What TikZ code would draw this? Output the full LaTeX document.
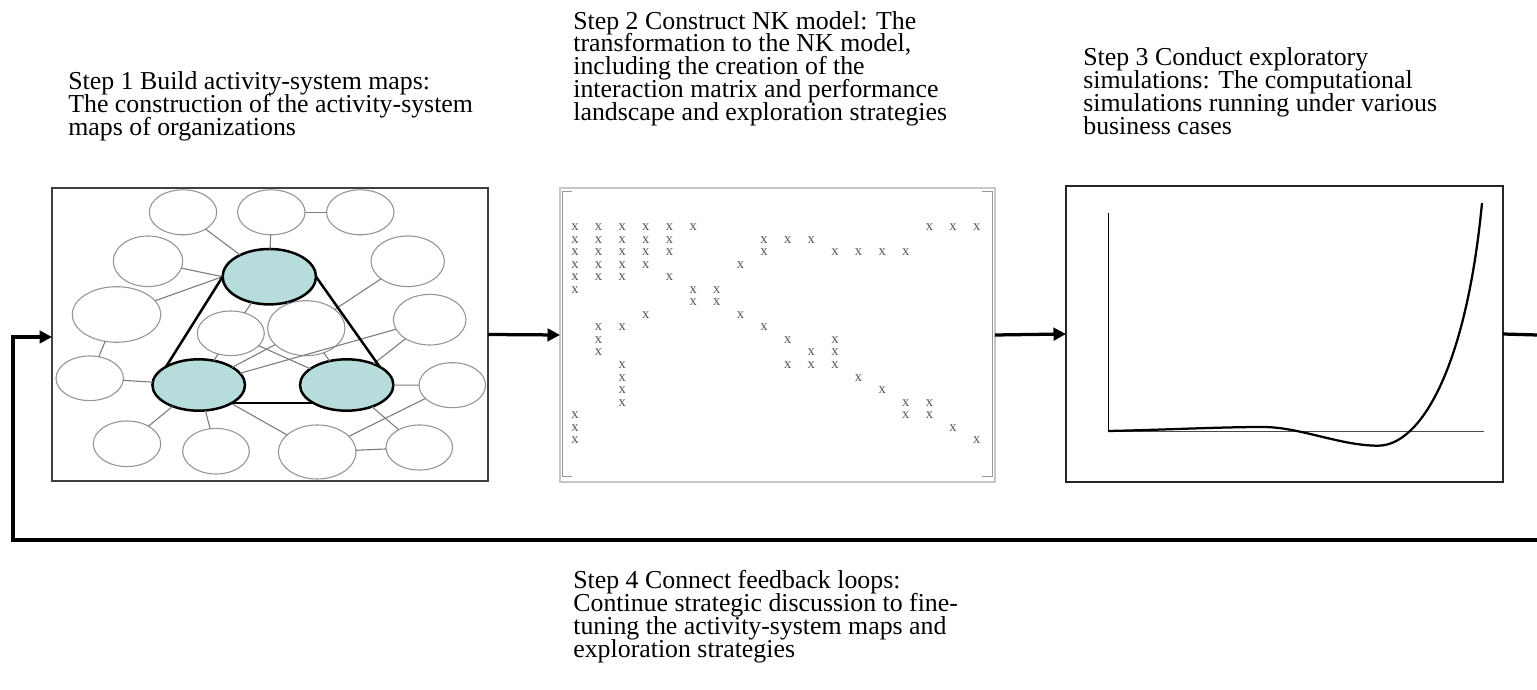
\documentclass[tikz,border=0pt]{standalone}
\usepackage{fontspec}
\setmainfont{Liberation Serif}
\usepackage{tikz}
\usetikzlibrary{arrows.meta,shapes.geometric}

\definecolor{coreteal}{RGB}{183,220,220}
\definecolor{linkgray}{RGB}{125,125,125}
\definecolor{rimgray}{RGB}{150,150,150}
\definecolor{xgray}{RGB}{85,85,85}

\setlength{\lineskiplimit}{-20pt}

\tikzset{
  elsize/.style 2 args={minimum width=#1*0.2mm, minimum height=#2*0.2mm},
  steptext/.style={anchor=base west, align=left, inner sep=0pt,
    font=\fontsize{14.7}{13}\selectfont},
  stepbox/.style={draw, line width=0.22mm, inner sep=0pt, outer sep=0pt},
  act/.style={ellipse, draw=rimgray, line width=0.22mm, fill=white, inner sep=0pt, outer sep=0pt},
  core/.style={ellipse, draw=black, line width=0.5mm, fill=coreteal, inner sep=0pt, outer sep=0pt},
  link/.style={draw=linkgray, line width=0.22mm},
  tri/.style={draw=black, line width=0.5mm},
  entry/.style={inner sep=0pt, text=xgray, font=\fontsize{8.3}{9}\selectfont},
  flow/.style={line width=0.65mm, -{Triangle[length=2.5mm,width=2.5mm]}}
}

\begin{document}
\begin{tikzpicture}[x=0.2mm, y=-0.2mm]
\useasboundingbox (0,0) rectangle (1537,690);

\node[steptext] (t1) at (68,135.5) {Step 1 Build activity-system maps:\\The construction of the activity-system\\maps of organizations};
\node[steptext] (t2) at (573,120.5) {Step 2 Construct NK model: The\\transformation to the NK model,\\including the creation of the\\interaction matrix and performance\\landscape and exploration strategies};
\node[steptext] (t3) at (1083,134.5) {Step 3 Conduct exploratory\\simulations: The computational\\simulations running under various\\business cases};
\node[steptext] (t4) at (573,657.5) {Step 4 Connect feedback loops:\\Continue strategic discussion to fine-\\tuning the activity-system maps and\\exploration strategies};

\node[stepbox, draw=black!75, elsize={436}{293}] (map) at (270,334.5) {};
\node[stepbox, draw=black!22, elsize={435}{294}] (nk) at (777.5,335) {};
\node[stepbox, draw=black!85, elsize={437}{296}] (sim) at (1284.5,334) {};

\node[act, elsize={67.4}{45}] (act1) at (183,212.3) {};
\node[act, elsize={67.4}{45}] (act2) at (271.3,212.3) {};
\node[act, elsize={67.4}{45}] (act3) at (360.3,212.3) {};
\node[act, elsize={69.4}{50.6}] (act4) at (148,261.3) {};
\node[act, elsize={73.4}{50.6}] (act5) at (407.7,261.3) {};
\node[act, elsize={88.4}{55.6}] (act6) at (116.5,314.5) {};
\node[act, elsize={72.6}{50.6}] (act7) at (429.7,319.7) {};
\node[act, elsize={67}{44.6}] (act8) at (230.8,333.3) {};
\node[act, elsize={77.4}{55}] (act9) at (306.3,328.2) {};
\node[act, elsize={67.4}{44.6}] (act10) at (89.7,378.3) {};
\node[act, elsize={66.6}{45}] (act11) at (452.3,385.2) {};
\node[act, elsize={67.4}{45.6}] (act12) at (127,443.8) {};
\node[act, elsize={66.6}{45.6}] (act13) at (216,451.2) {};
\node[act, elsize={77.6}{54}] (act14) at (317.2,452) {};
\node[act, elsize={66.6}{45}] (act15) at (419.3,447.5) {};

\node[core, elsize={93.4}{55.4}] (core1) at (269.3,276.7) {};
\node[core, elsize={92.6}{51.4}] (core2) at (198.7,385) {};
\node[core, elsize={93.4}{51.4}] (core3) at (346.7,385) {};

\draw[link] (act1) -- (core1);
\draw[link] (act2) -- (core1);
\draw[link] (act2) -- (act3);
\draw[link] (act4) -- (core1.west);
\draw[link] (act6) -- (core1.west);
\draw[link] (act5) -- (act9);
\draw[link] (core1) -- (act8);
\draw[link] (core1) -- (act9);
\draw[link] (act6) -- (act10);
\draw[link] (act10) -- (core2);
\draw[link] (act8) -- (core2);
\draw[link] (act8) -- (core3);
\draw[link] (core2) -- (act9);
\draw[link] (core2) -- (act7);
\draw[link] (act9) -- (core3);
\draw[link] (act7) -- (core3);
\draw[link] (core3) -- (act11);
\draw[link] (core2) -- (act12);
\draw[link] (core2) -- (act13);
\draw[link] (core2) -- (act14);
\draw[link] (act14) -- (act11);
\draw[link] (act14) -- (act15);
\draw[link] (core3) -- (act15);

\draw[tri] (core1.west) -- (core2.north west);
\draw[tri] (core1.east) -- (core3.north east);
\draw[tri] (core2.south east) -- (core3.south west);

\draw[rimgray, line width=0.2mm] (572,192) -- (562,192) -- (562,477) -- (572,477);
\draw[rimgray, line width=0.2mm] (982,192) -- (992,192) -- (992,477) -- (982,477);
\foreach \r/\cols in {1/{1,2,3,4,5,6,16,17,18}, 2/{1,2,3,4,5,9,10,11}, 3/{1,2,3,4,5,9,12,13,14,15},
    4/{1,2,3,4,8}, 5/{1,2,3,5}, 6/{1,6,7}, 7/{6,7}, 8/{4,8}, 9/{2,3,9}, 10/{2,10,12},
    11/{2,11,12}, 12/{3,10,11,12}, 13/{3,13}, 14/{3,14}, 15/{3,15,16}, 16/{1,15,16},
    17/{1,17}, 18/{1,18}}
  \foreach \c in \cols
    \node[entry] (m-\r-\c) at ({575+(\c-1)*23.63},{227.3+(\r-1)*12.53}) {x};

\draw[black, line width=0.2mm] (1108.3,213.3) -- (1108.3,431.7);
\draw[black!70, line width=0.2mm] (1108.3,431.7) -- (1484,431.7);
\draw[line width=0.45mm] (1108,431) .. controls (1160,430) and (1220,427) .. (1263,427)
  .. controls (1300,427) and (1340,445.7) .. (1378,445.7)
  .. controls (1420,445.7) and (1466,370) .. (1482,203);

\coordinate (outR) at (1537,335);
\coordinate (fbR) at (1537,540);
\coordinate (fbL) at (13,540);
\draw[flow] (map.east) -- (nk.west);
\draw[flow] (nk.east) -- (sim.west);
\draw[line width=0.65mm] (sim.east) -- (outR);
\draw[flow] (fbR) -- (fbL) |- ([yshift=-0.5mm]map.west);
\end{tikzpicture}
\end{document}
